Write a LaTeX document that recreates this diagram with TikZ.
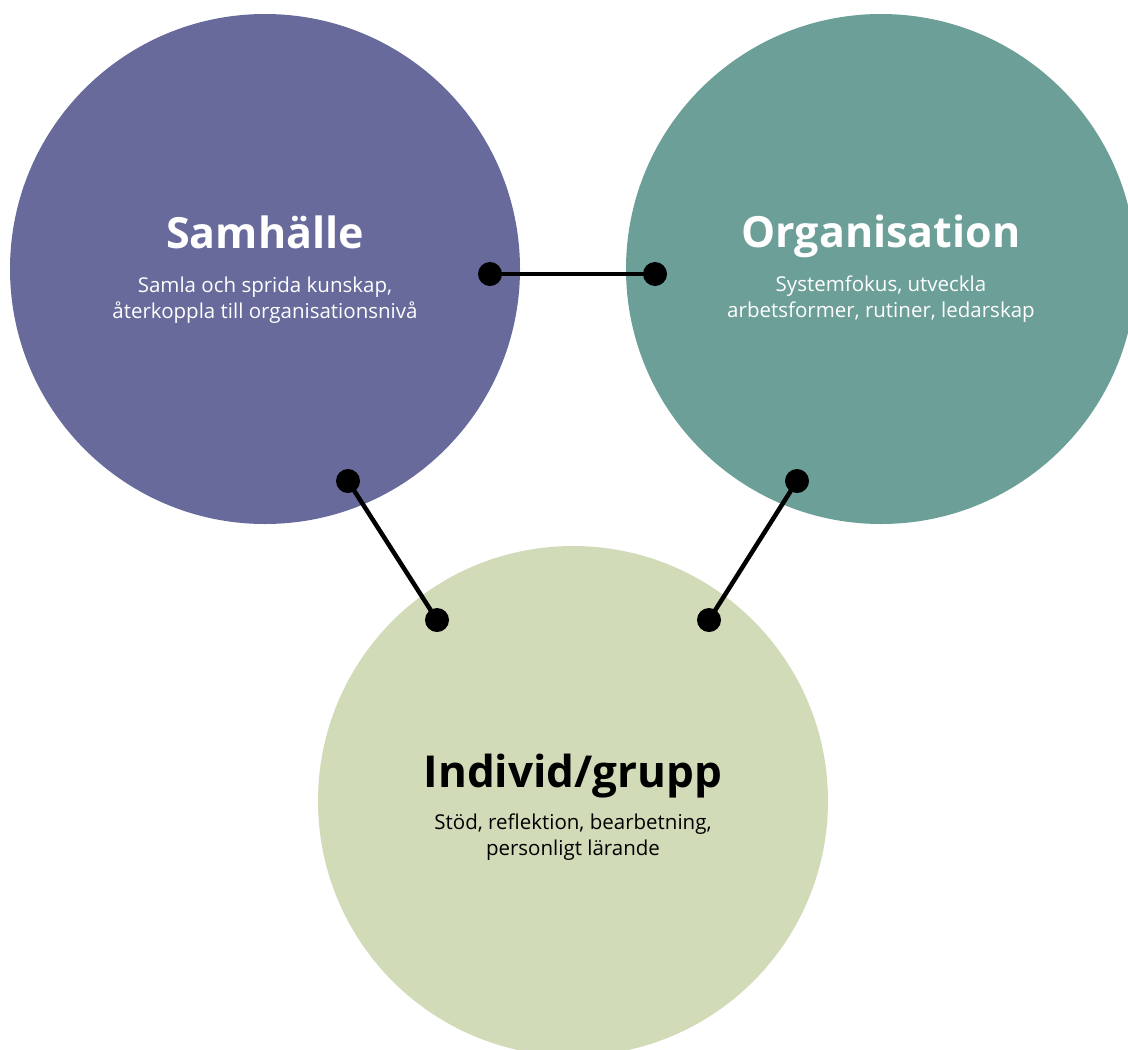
\documentclass[tikz,border=0pt]{standalone}
\usepackage{fontspec}
\setmainfont{Open Sans}
\definecolor{samc}{HTML}{676A9B}
\definecolor{orgc}{HTML}{6C9F98}
\definecolor{indc}{HTML}{D2DBB8}
\begin{document}
\begin{tikzpicture}[x=1pt,y=-1pt,
  disc/.style={circle, minimum size=510pt, inner sep=0pt, draw=none},
  heading/.style={font=\bfseries\fontsize{43}{50}\selectfont, inner sep=0pt, anchor=base},
  blurb/.style={font=\fontsize{20.5}{26}\selectfont, align=center, inner sep=0pt, anchor=base},
  joint/.style={circle, fill=black, minimum size=24pt, inner sep=0pt},
  link/.style={line width=4.5pt}]
\useasboundingbox (0,0) rectangle (1128,1050);
\clip (0,0) rectangle (1128,1050);

% the three areas
\node[disc, fill=samc] (samhalle) at (265,269) {};
\node[disc, fill=orgc] (organisation) at (881,269) {};
\node[disc, fill=indc] (individ) at (573,801) {};

% labels
\node[heading, text=white] (samT) at (265,248) {Samhälle};
\node[blurb, text=white] (samS1) at (265,292) {Samla och sprida kunskap,};
\node[blurb, text=white] (samS2) at (265,318) {återkoppla till organisationsnivå};

\node[heading, text=white] (orgT) at (881,247) {Organisation};
\node[blurb, text=white] (orgS1) at (881,291) {Systemfokus, utveckla};
\node[blurb, text=white] (orgS2) at (881,317) {arbetsformer, rutiner, ledarskap};

\node[heading, text=black, font=\bfseries\fontsize{44}{50}\selectfont] (indT) at (573,787) {Individ/grupp};
\node[blurb, text=black] (indS1) at (573,829) {Stöd, reflektion, bearbetning,};
\node[blurb, text=black] (indS2) at (573,855) {personligt lärande};

% connection points
\node[joint] (p1) at (490,274) {};
\node[joint] (p2) at (655,274) {};
\node[joint] (p3) at (348,481) {};
\node[joint] (p4) at (437,620) {};
\node[joint] (p5) at (797,481) {};
\node[joint] (p6) at (709,620) {};

% connectors
\draw[link] (p1.center) -- (p2.center);
\draw[link] (p3.center) -- (p4.center);
\draw[link] (p5.center) -- (p6.center);
\end{tikzpicture}
\end{document}
